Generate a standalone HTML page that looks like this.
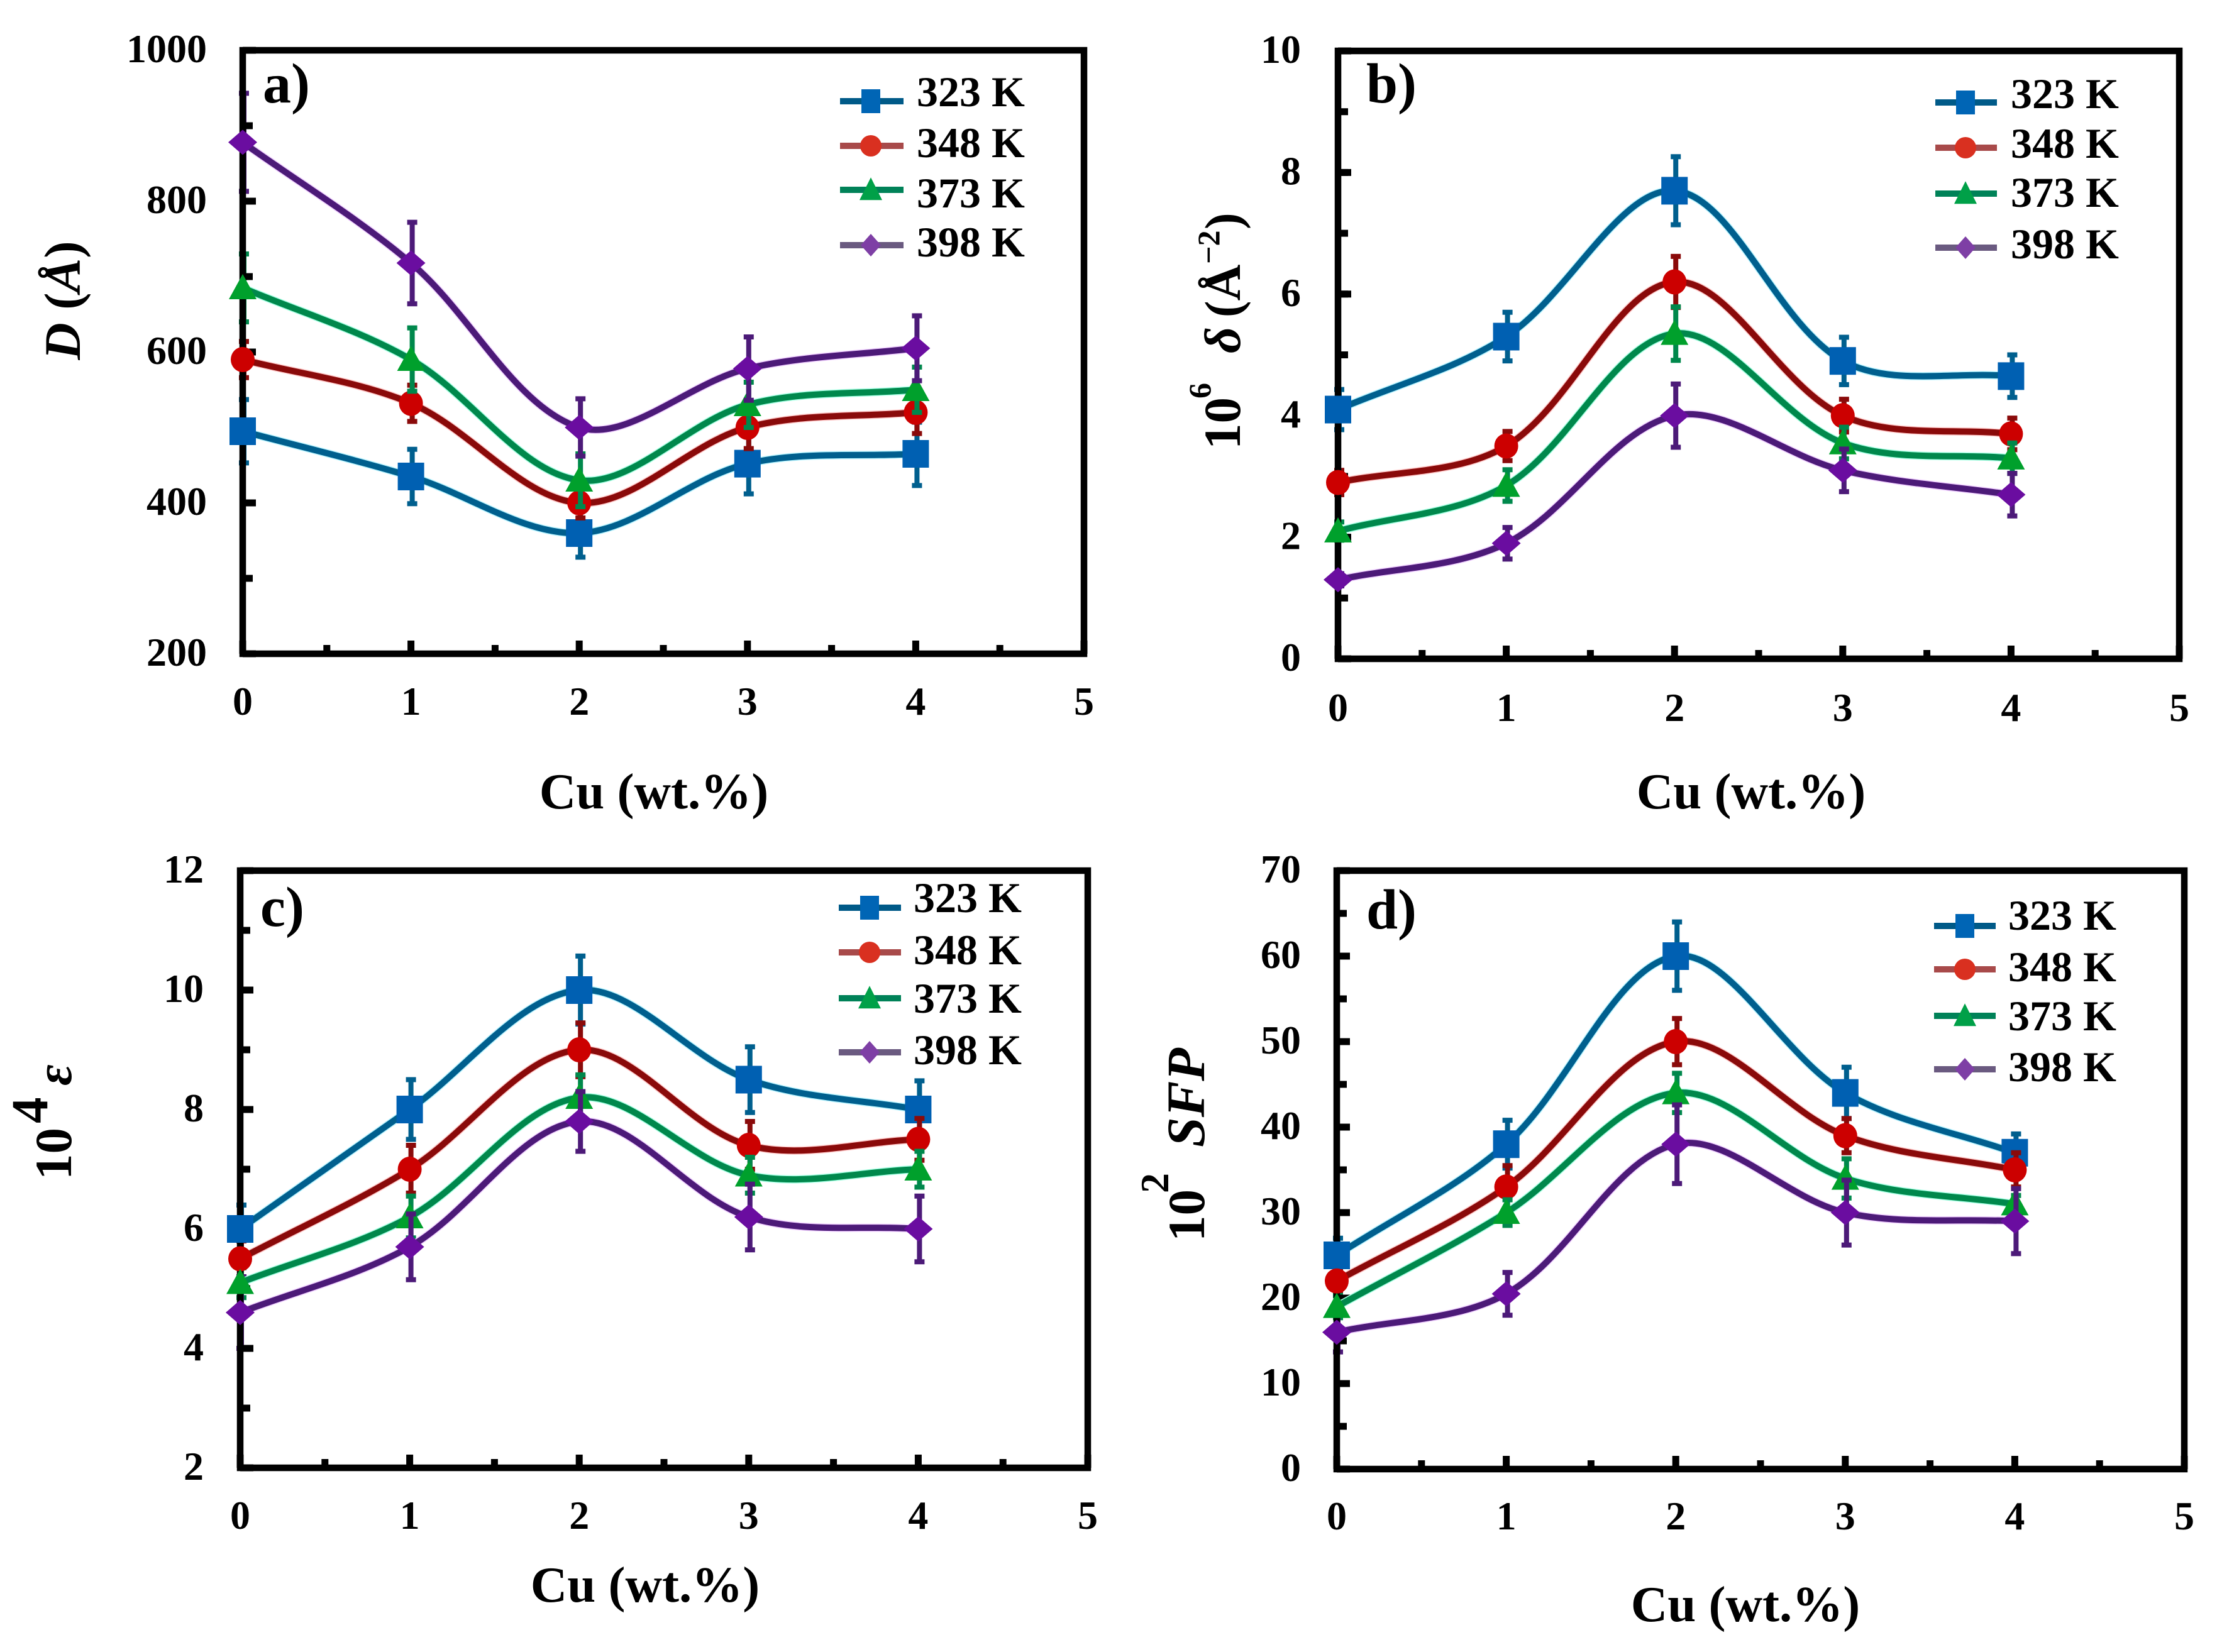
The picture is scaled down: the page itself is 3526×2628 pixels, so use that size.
<!DOCTYPE html>
<html>
<head>
<meta charset="utf-8">
<title>Cu (wt.%) microstructure parameters</title>
<style>
html,body{margin:0;padding:0;background:#fff;}
svg{display:block;}
text{font-family:"Liberation Serif",serif;font-weight:bold;fill:#000;}
</style>
</head>
<body>
<svg id="figure" xmlns="http://www.w3.org/2000/svg" width="3526" height="2628" viewBox="0 0 3526 2628">
  <rect x="0" y="0" width="3526" height="2628" fill="#fff"/>
  <g id="charts"></g>
  <g>
    <text transform="translate(127,478) rotate(-90)" text-anchor="middle" font-size="82" font-style="italic">D<tspan font-style="normal"> (</tspan>Å<tspan font-style="normal">)</tspan></text>

    <g>
      <text transform="translate(1972,715) rotate(-90)" font-size="83">10</text>
      <text transform="translate(1925,634) rotate(-90)" font-size="50">6</text>
      <text transform="translate(1972,562) rotate(-90)" font-size="82" font-style="italic">δ</text>
      <text transform="translate(1972,505) rotate(-90)" font-size="80">(Å</text>
      <text transform="translate(1939,420) rotate(-90)" font-size="50">−2</text>
      <text transform="translate(1972,365) rotate(-90)" font-size="80">)</text>
    </g>

    <g>
      <text transform="translate(113,1877) rotate(-90)" font-size="83">10</text>
      <text transform="translate(75,1787) rotate(-90)" font-size="83">4</text>
      <text transform="translate(113,1727) rotate(-90)" font-size="82" font-style="italic">ε</text>
    </g>

    <g>
      <text transform="translate(1915,1975) rotate(-90)" font-size="83">10</text>
      <text transform="translate(1858,1898) rotate(-90)" font-size="64">2</text>
      <text transform="translate(1915,1825) rotate(-90)" font-size="86" font-style="italic">SFP</text>
    </g>
  </g>
</svg>
<script>
const categories = [0, 1, 2, 3, 4];
const xTickLabels = [0, 1, 2, 3, 4, 5];
const seriesNames = ['323 K', '348 K', '373 K', '398 K'];

const yTicksA = [200, 400, 600, 800, 1000];
const yTicksB = [0, 2, 4, 6, 8, 10];
const yTicksC = [2, 4, 6, 8, 10, 12];
const yTicksD = [0, 10, 20, 30, 40, 50, 60, 70];

const a323 = [495, 435, 360, 452, 465];
const a348 = [590, 532, 400, 500, 520];
const a373 = [685, 590, 430, 530, 550];
const a398 = [878, 718, 500, 578, 605];
const aErr323 = [42, 36, 32, 40, 42];
const aErr348 = [24, 24, 20, 28, 28];
const aErr373 = [45, 42, 35, 30, 30];
const aErr398 = [65, 54, 38, 42, 43];

const b323 = [4.1, 5.3, 7.7, 4.9, 4.65];
const b348 = [2.9, 3.5, 6.2, 4.0, 3.7];
const b373 = [2.1, 2.85, 5.35, 3.55, 3.3];
const b398 = [1.3, 1.9, 4.0, 3.1, 2.7];
const bErr323 = [0.33, 0.40, 0.56, 0.39, 0.35];
const bErr348 = [0.2, 0.24, 0.42, 0.27, 0.26];
const bErr373 = [0.15, 0.26, 0.44, 0.26, 0.25];
const bErr398 = [0.1, 0.26, 0.52, 0.35, 0.35];

const c323 = [6, 8, 10, 8.5, 8];
const c348 = [5.5, 7, 9, 7.4, 7.5];
const c373 = [5.1, 6.2, 8.2, 6.9, 7];
const c398 = [4.6, 5.7, 7.8, 6.2, 6];
const cErr323 = [0.4, 0.5, 0.57, 0.55, 0.48];
const cErr348 = [0.3, 0.4, 0.45, 0.4, 0.35];
const cErr373 = [0.25, 0.35, 0.38, 0.3, 0.3];
const cErr398 = [0.6, 0.55, 0.5, 0.55, 0.55];

const d323 = [25, 38, 60, 44, 37];
const d348 = [22, 33, 50, 39, 35];
const d373 = [19, 30, 44, 34, 31];
const d398 = [16, 20.5, 38, 30, 29];
const dErr323 = [2, 2.8, 4, 3, 2.2];
const dErr348 = [1.5, 2.5, 2.7, 2, 2];
const dErr373 = [1.3, 1.5, 2.3, 2.3, 1];
const dErr398 = [2.3, 2.5, 4.6, 3.8, 3.8];

const panels = [
  {id:'a', tag:'a)', L:386, R:1724, T:80, B:1040, yMin:200, yMax:1000, yMinorStep:100, yTicks:yTicksA,
   values:[a323,a348,a373,a398], errors:[aErr323,aErr348,aErr373,aErr398],
   labelRight:329, xLabelBase:1137, tagX:418, tagBase:163,
   xTitleX:1040, xTitleBase:1286,
   legend:{x1:1336, x2:1437, mx:1385, tx:1458, ly:[161,232,302,390], ty:[169,250,330,408]}},
  {id:'b', tag:'b)', L:2128, R:3466, T:81, B:1048, yMin:0, yMax:10, yMinorStep:1, yTicks:yTicksB,
   values:[b323,b348,b373,b398], errors:[bErr323,bErr348,bErr373,bErr398],
   labelRight:2069, xLabelBase:1147, tagX:2173, tagBase:163,
   xTitleX:2785, xTitleBase:1286,
   legend:{x1:3078, x2:3176, mx:3126, tx:3198, ly:[163,235,308,394], ty:[172,251,329,411]}},
  {id:'c', tag:'c)', L:382, R:1730, T:1385, B:2335, yMin:2, yMax:12, yMinorStep:1, yTicks:yTicksC,
   values:[c323,c348,c373,c398], errors:[cErr323,cErr348,cErr373,cErr398],
   labelRight:324, xLabelBase:2432, tagX:414, tagBase:1473,
   xTitleX:1026, xTitleBase:2548,
   legend:{x1:1334, x2:1433, mx:1383, tx:1453, ly:[1444,1515,1588,1674], ty:[1451,1534,1611,1693]}},
  {id:'d', tag:'d)', L:2126, R:3474, T:1385, B:2337, yMin:0, yMax:70, yMinorStep:5, yTicks:yTicksD,
   values:[d323,d348,d373,d398], errors:[dErr323,dErr348,dErr373,dErr398],
   labelRight:2069, xLabelBase:2433, tagX:2173, tagBase:1477,
   xTitleX:2776, xTitleBase:2579,
   legend:{x1:3076, x2:3174, mx:3125, tx:3194, ly:[1473,1542,1616,1701], ty:[1479,1561,1639,1720]}}
];

const lineColors = ['#005f8e', '#8a0a0a', '#00884c', '#4c1a78'];
const markerColors = ['#0060b2', '#cc0000', '#00a02c', '#6a0da0'];
const haloColors = ['#b8f4ff', '#ffc8c8', '#a8ffe4', '#f0d0ff'];
const legendLineColors = ['#005a88', '#a84a4a', '#008258', '#6a5a80'];
const legendMarkerColors = ['#0065b5', '#d93020', '#00a048', '#7e3fa5'];
const markerKinds = ['square', 'circle', 'triangle', 'diamond'];

const NS = 'http://www.w3.org/2000/svg';

function make(tag, attrs, parent) {
  const el = document.createElementNS(NS, tag);
  for (const k in attrs) el.setAttribute(k, attrs[k]);
  parent.appendChild(el);
  return el;
}

function smoothPath(pts) {
  const dist = (p, q) => Math.hypot(p[0] - q[0], p[1] - q[1]);
  function tangent(prev, cur, next) {
    const s = dist(prev, cur) + dist(cur, next);
    return s ? [(next[0] - prev[0]) / s, (next[1] - prev[1]) / s] : [0, 0];
  }
  let d = 'M' + pts[0][0] + ' ' + pts[0][1];
  for (let i = 0; i < pts.length - 1; i++) {
    const z = pts[Math.max(i - 1, 0)], a = pts[i], b = pts[i + 1], c = pts[Math.min(i + 2, pts.length - 1)];
    const len = dist(a, b) / 3;
    const ta = tangent(z, a, b), tb = tangent(a, b, c);
    d += ' C' + (a[0] + ta[0] * len) + ' ' + (a[1] + ta[1] * len) + ' ' +
         (b[0] - tb[0] * len) + ' ' + (b[1] - tb[1] * len) + ' ' + b[0] + ' ' + b[1];
  }
  return d;
}

function drawMarker(kind, cx, cy, color, parent, w, h) {
  let el;
  if (kind === 'square') {
    el = make('rect', {x: cx - w / 2, y: cy - h / 2, width: w, height: h, fill: color}, parent);
  } else if (kind === 'circle') {
    el = make('ellipse', {cx: cx, cy: cy, rx: w / 2, ry: h / 2, fill: color}, parent);
  } else if (kind === 'triangle') {
    el = make('polygon', {points: (cx - w / 2) + ',' + (cy + h * 0.45) + ' ' + (cx + w / 2) + ',' + (cy + h * 0.45) + ' ' + cx + ',' + (cy - h * 0.55), fill: color}, parent);
  } else {
    el = make('polygon', {points: (cx - w / 2) + ',' + cy + ' ' + cx + ',' + (cy - h / 2) + ' ' + (cx + w / 2) + ',' + cy + ' ' + cx + ',' + (cy + h / 2), fill: color}, parent);
  }
  return el;
}

function drawErrorBar(x, y1, y2, color, parent) {
  const bar = make('path', {d: 'M' + x + ' ' + y1 + ' V' + y2 + ' M' + (x - 8) + ' ' + y1 + ' H' + (x + 8) + ' M' + (x - 8) + ' ' + y2 + ' H' + (x + 8), fill: 'none', stroke: color, 'stroke-width': 8}, parent);
  
  
}

const markerW = {square: 42, circle: 38, triangle: 44, diamond: 46};
const markerH = {square: 44, circle: 40, triangle: 40, diamond: 40};
const legendW = {square: 30, circle: 34, triangle: 36, diamond: 32};
const legendH = {square: 38, circle: 34, triangle: 36, diamond: 36};
const errorBarShift = 2;

const root = document.getElementById('charts');

panels.forEach(function (p) {
  const xScale = v => p.L + (p.R - p.L) * v / 5;
  const yScale = v => p.B - (p.B - p.T) * (v - p.yMin) / (p.yMax - p.yMin);

  const g = make('g', {}, root);
  
  

  // error bars on the y axis sit behind the frame
  p.values.forEach(function (vals, s) {
    const x = xScale(categories[0]) + errorBarShift;
    drawErrorBar(x, yScale(vals[0] + p.errors[s][0]), yScale(vals[0] - p.errors[s][0]), lineColors[s], g);
  });

  // minor and major y ticks
  for (let v = p.yMin; v <= p.yMax + 1e-9; v += p.yMinorStep) {
    const tick = make('rect', {x: p.L, y: yScale(v) - 5.5, width: 16, height: 11, fill: '#000'}, g);
    
    
  }
  p.yTicks.forEach(function (v) {
    const tick = make('rect', {x: p.L, y: yScale(v) - 5.5, width: 21, height: 11, fill: '#000'}, g);
    
    
    const lab = make('text', {x: p.labelRight, y: yScale(v) + 19, 'text-anchor': 'end', 'font-size': 64}, g);
    lab.textContent = v;
    
    
  });

  // x ticks
  xTickLabels.forEach(function (v) {
    const major = make('rect', {x: xScale(v) - 5.5, y: p.B - 21, width: 11, height: 21, fill: '#000'}, g);
    
    
    if (v < 5) {
      const minor = make('rect', {x: xScale(v + 0.5) - 5.5, y: p.B - 14, width: 11, height: 14, fill: '#000'}, g);
      
      
    }
    const lab = make('text', {x: xScale(v), y: p.xLabelBase, 'text-anchor': 'middle', 'font-size': 64}, g);
    lab.textContent = v;
    
    
  });

  // plot frame
  const frame = make('rect', {x: p.L, y: p.T, width: p.R - p.L, height: p.B - p.T, fill: 'none', stroke: '#000', 'stroke-width': 10.5}, g);
  
  

  // series
  p.values.forEach(function (vals, s) {
    const sg = make('g', {}, g);
    
    
    const pts = categories.map((c, i) => [xScale(c), yScale(vals[i])]);
    const d = smoothPath(pts);
    const halo = make('path', {d: d, fill: 'none', stroke: haloColors[s], 'stroke-width': 13}, sg);
    
    
    categories.forEach(function (c, i) {
      if (i === 0) return;
      drawErrorBar(xScale(c) + errorBarShift, yScale(vals[i] + p.errors[s][i]), yScale(vals[i] - p.errors[s][i]), lineColors[s], sg);
    });
    const line = make('path', {d: d, fill: 'none', stroke: lineColors[s], 'stroke-width': 10}, sg);
    
    
    const kind = markerKinds[s];
    pts.forEach(function (pt) {
      const m = drawMarker(kind, pt[0], pt[1], markerColors[s], sg, markerW[kind], markerH[kind]);
      
      
    });
  });

  // legend
  const lg = make('g', {}, g);
  
  
  seriesNames.forEach(function (name, s) {
    const y = p.legend.ly[s];
    const entry = make('g', {}, lg);
    
    
    make('rect', {x: p.legend.x1, y: y - 5, width: p.legend.x2 - p.legend.x1, height: 10, fill: legendLineColors[s]}, entry);
    const kind = markerKinds[s];
    drawMarker(kind, p.legend.mx, y, legendMarkerColors[s], entry, legendW[kind], legendH[kind]);
    const t = make('text', {x: p.legend.tx, y: p.legend.ty[s], 'font-size': 68}, entry);
    t.textContent = name;
  });

  // panel tag
  const tag = make('text', {x: p.tagX, y: p.tagBase, 'font-size': 90}, g);
  tag.textContent = p.tag;
  
  

  // x axis title
  const xt = make('text', {x: p.xTitleX, y: p.xTitleBase, 'text-anchor': 'middle', 'font-size': 81}, g);
  xt.textContent = 'Cu (wt.%)';
  
  
});
</script>
</body>
</html>
